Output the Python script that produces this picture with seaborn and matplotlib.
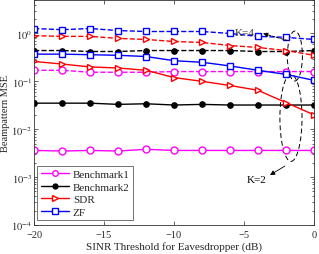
import matplotlib
matplotlib.use("Agg")
import matplotlib.pyplot as plt
import pandas as pd
import seaborn as sns
from matplotlib.lines import Line2D
from matplotlib.patches import Ellipse

# SINR threshold (dB)
sinr_db = [-20, -18, -16, -14, -12, -10, -8, -6, -4, -2, 0]

# K=2 (solid lines)
bench1_k2 = [0.0036, 0.0035, 0.0036, 0.0035, 0.0038, 0.0036, 0.0036, 0.0036, 0.0036, 0.0036, 0.0036]
bench2_k2 = [0.035, 0.035, 0.035, 0.033, 0.034, 0.032, 0.033, 0.032, 0.032, 0.032, 0.032]
sdr_k2 = [0.26, 0.23, 0.20, 0.19, 0.17, 0.12, 0.10, 0.082, 0.065, 0.036, 0.020]
zf_k2 = [0.37, 0.37, 0.36, 0.35, 0.33, 0.27, 0.25, 0.21, 0.17, 0.14, 0.105]

# K=4 (dashed lines)
bench1_k4 = [0.17, 0.17, 0.155, 0.155, 0.155, 0.16, 0.16, 0.16, 0.16, 0.16, 0.16]
bench2_k4 = [0.44, 0.44, 0.42, 0.42, 0.44, 0.44, 0.44, 0.44, 0.42, 0.42, 0.44]
sdr_k4 = [0.90, 0.87, 0.87, 0.79, 0.75, 0.68, 0.65, 0.56, 0.51, 0.44, 0.35]
zf_k4 = [1.27, 1.20, 1.27, 1.15, 1.10, 1.10, 1.10, 1.00, 0.87, 0.83, 0.75]

scheme_names = ["Benchmark1", "Benchmark2", "SDR", "ZF"]
scheme_colors = ["#ff00ff", "#000000", "#ff0000", "#0000ff"]
scheme_markers = ["o", "o", ">", "s"]

sns.set_style("ticks")
plt.rcParams["font.family"] = ["Liberation Serif", "DejaVu Serif"]
plt.rcParams["mathtext.fontset"] = "stix"

fig, ax = plt.subplots(figsize=(3.19, 2.55), dpi=100)
fig.subplots_adjust(left=0.107, right=0.984, bottom=0.114, top=0.996)

series_k2 = [bench1_k2, bench2_k2, sdr_k2, zf_k2]
series_k4 = [bench1_k4, bench2_k4, sdr_k4, zf_k4]

for name, color, marker, y2, y4 in zip(scheme_names, scheme_colors, scheme_markers, series_k2, series_k4):
    filled = name == "Benchmark2"
    face = color if filled else "white"
    msize = 3.8 if filled else 5
    for yvals, ls in [(y2, "-"), (y4, "--")]:
        df = pd.DataFrame({"sinr": sinr_db, "mse": yvals})
        sns.lineplot(data=df, x="sinr", y="mse", ax=ax, color=color, linestyle=ls,
                     linewidth=1.0, marker=marker, markersize=msize,
                     markerfacecolor=face, markeredgecolor=color, markeredgewidth=1.0,
                     legend=False)

ax.set_yscale("log")
ax.set_xlim(-20, 0)
ax.set_ylim(1e-4, 5)
ax.set_xticks([-20, -15, -10, -5, 0])
ax.set_yticks([1e-4, 1e-3, 1e-2, 1e-1, 1e0])
ax.set_yticklabels([r"$10^{-4}$", r"$10^{-3}$", r"$10^{-2}$", r"$10^{-1}$", r"$10^{0}$"])
ax.set_xlabel("SINR Threshold for Eavesdropper (dB)", fontsize=8, labelpad=1)
ax.set_ylabel("Beampattern MSE", fontsize=7.5, labelpad=1)
ax.tick_params(axis="both", which="both", direction="in", top=True, right=True,
               labelsize=7.5, width=0.5)
ax.tick_params(axis="x", pad=4)
ax.tick_params(axis="y", pad=1.5)
ax.tick_params(axis="both", which="major", length=3)
ax.tick_params(axis="both", which="minor", length=1.5)
for sp in ax.spines.values():
    sp.set_linewidth(0.6)
    sp.set_color("#333333")

handles = [Line2D([0], [0], color=c, marker=m, linewidth=1.0,
                  markersize=3.5 if n == "Benchmark2" else 4,
                  markerfacecolor=c if n == "Benchmark2" else "white",
                  markeredgecolor=c)
           for n, c, m in zip(scheme_names, scheme_colors, scheme_markers)]
leg = ax.legend(handles, scheme_names, loc="lower left", bbox_to_anchor=(0.011, 0.022),
                borderaxespad=0, fontsize=8, frameon=True, fancybox=False,
                handlelength=2.6, handletextpad=0.3, labelspacing=0.25, borderpad=0.3)
leg.get_frame().set_edgecolor("#333333")
leg.get_frame().set_linewidth(0.6)

# dashed ellipses marking the K=4 and K=2 groups
ax.add_patch(Ellipse((0.932, 0.751), 0.054, 0.222, transform=ax.transAxes,
                     fill=False, linestyle=(0, (5, 3)), linewidth=0.7, edgecolor="black"))
ax.add_patch(Ellipse((0.918, 0.476), 0.079, 0.387, transform=ax.transAxes,
                     fill=False, linestyle=(0, (5, 3)), linewidth=0.7, edgecolor="black"))

ax.annotate("", xy=(-3.64, 1.0), xytext=(-1.86, 0.71),
            arrowprops=dict(arrowstyle="-|>", linestyle="--", color="black", lw=0.6,
                            mutation_scale=7, shrinkA=0, shrinkB=0))
ax.text(-4.93, 1.05, "K=4", fontsize=8, ha="center", va="center", color="#333333")

ax.annotate("", xy=(-3.14, 1.1e-3), xytext=(-2.07, 1.7e-3),
            arrowprops=dict(arrowstyle="-|>", color="black", lw=0.6,
                            mutation_scale=7, shrinkA=0, shrinkB=0))
ax.text(-4.07, 8.7e-4, "K=2", fontsize=8, ha="center", va="center", color="black")

fig.savefig("out.png", dpi=100)
